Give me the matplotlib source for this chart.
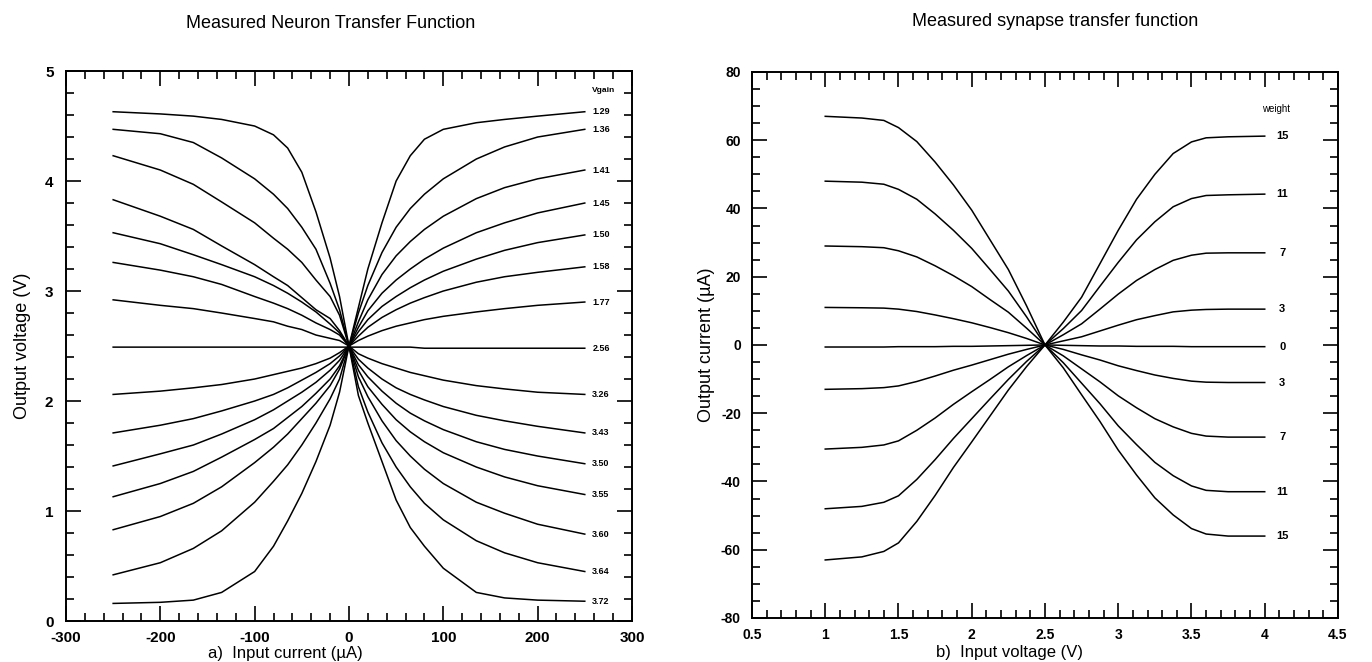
import matplotlib
matplotlib.use("Agg")
import matplotlib.pyplot as plt
from matplotlib.ticker import MultipleLocator

plt.rcParams["font.family"] = ["Liberation Sans", "DejaVu Sans"]
plt.rcParams["axes.unicode_minus"] = False

# ---- panel a: neuron transfer function ----
i_in = [-250, -200, -165, -135, -100, -80, -65, -50, -35, -20, -10, 0,
        10, 20, 35, 50, 65, 80, 100, 135, 165, 200, 250]

vgain_labels = ["1.29", "1.36", "1.41", "1.45", "1.50", "1.58", "1.77", "2.56",
                "3.26", "3.43", "3.50", "3.55", "3.60", "3.64", "3.72"]

v_129 = [0.16, 0.17, 0.19, 0.26, 0.45, 0.68, 0.91, 1.16, 1.45, 1.78, 2.08, 2.5,
         2.85, 3.20, 3.62, 4.00, 4.23, 4.38, 4.47, 4.53, 4.56, 4.59, 4.63]
v_136 = [0.42, 0.53, 0.66, 0.82, 1.08, 1.27, 1.42, 1.60, 1.80, 2.02, 2.20, 2.5,
         2.80, 3.05, 3.35, 3.58, 3.75, 3.88, 4.02, 4.20, 4.31, 4.40, 4.47]
v_141 = [0.83, 0.95, 1.07, 1.22, 1.44, 1.58, 1.70, 1.84, 1.98, 2.14, 2.29, 2.5,
         2.72, 2.92, 3.15, 3.32, 3.45, 3.56, 3.68, 3.84, 3.94, 4.02, 4.10]
v_145 = [1.13, 1.25, 1.36, 1.49, 1.65, 1.75, 1.85, 1.95, 2.07, 2.20, 2.32, 2.5,
         2.67, 2.82, 2.98, 3.10, 3.20, 3.29, 3.39, 3.53, 3.62, 3.71, 3.80]
v_150 = [1.41, 1.52, 1.60, 1.70, 1.83, 1.92, 2.00, 2.08, 2.17, 2.28, 2.37, 2.5,
         2.63, 2.74, 2.86, 2.95, 3.03, 3.10, 3.18, 3.29, 3.37, 3.44, 3.51]
v_158 = [1.71, 1.78, 1.84, 1.91, 2.00, 2.06, 2.12, 2.19, 2.26, 2.34, 2.41, 2.5,
         2.59, 2.67, 2.76, 2.83, 2.89, 2.94, 3.00, 3.08, 3.13, 3.17, 3.22]
v_177 = [2.06, 2.09, 2.12, 2.15, 2.20, 2.24, 2.27, 2.30, 2.34, 2.39, 2.44, 2.5,
         2.55, 2.59, 2.64, 2.68, 2.71, 2.74, 2.77, 2.81, 2.84, 2.87, 2.90]
v_256 = [2.49, 2.49, 2.49, 2.49, 2.49, 2.49, 2.49, 2.49, 2.49, 2.49, 2.49, 2.49,
         2.49, 2.49, 2.49, 2.49, 2.49, 2.48, 2.48, 2.48, 2.48, 2.48, 2.48]
v_326 = [2.92, 2.87, 2.84, 2.80, 2.75, 2.72, 2.68, 2.65, 2.60, 2.57, 2.55, 2.5,
         2.43, 2.39, 2.34, 2.30, 2.26, 2.23, 2.19, 2.14, 2.11, 2.08, 2.06]
v_343 = [3.26, 3.19, 3.13, 3.06, 2.95, 2.89, 2.84, 2.78, 2.71, 2.65, 2.60, 2.5,
         2.38, 2.30, 2.20, 2.12, 2.06, 2.01, 1.95, 1.87, 1.82, 1.77, 1.71]
v_350 = [3.53, 3.43, 3.33, 3.24, 3.13, 3.05, 2.98, 2.90, 2.81, 2.70, 2.62, 2.5,
         2.33, 2.22, 2.09, 1.98, 1.89, 1.82, 1.74, 1.63, 1.56, 1.50, 1.43]
v_355 = [3.83, 3.68, 3.56, 3.41, 3.24, 3.13, 3.05, 2.94, 2.83, 2.75, 2.64, 2.5,
         2.28, 2.13, 1.97, 1.83, 1.72, 1.63, 1.53, 1.40, 1.31, 1.23, 1.15]
v_360 = [4.23, 4.10, 3.97, 3.81, 3.62, 3.48, 3.38, 3.26, 3.10, 2.95, 2.78, 2.5,
         2.22, 2.04, 1.82, 1.64, 1.50, 1.38, 1.25, 1.08, 0.98, 0.88, 0.79]
v_364 = [4.47, 4.43, 4.35, 4.21, 4.02, 3.88, 3.75, 3.58, 3.38, 3.07, 2.83, 2.5,
         2.13, 1.90, 1.62, 1.40, 1.22, 1.07, 0.92, 0.73, 0.62, 0.53, 0.45]
v_372 = [4.63, 4.61, 4.59, 4.56, 4.50, 4.42, 4.30, 4.08, 3.72, 3.30, 2.95, 2.5,
         2.05, 1.80, 1.45, 1.10, 0.85, 0.68, 0.48, 0.26, 0.21, 0.19, 0.18]

neuron_curves = [v_129, v_136, v_141, v_145, v_150, v_158, v_177, v_256,
                 v_326, v_343, v_350, v_355, v_360, v_364, v_372]

# ---- panel b: synapse transfer function ----
v_in = [1.0, 1.25, 1.4, 1.5, 1.625, 1.75, 1.875, 2.0, 2.125, 2.25, 2.375, 2.5,
        2.625, 2.75, 2.875, 3.0, 3.125, 3.25, 3.375, 3.5, 3.6, 3.75, 4.0]

weight_labels = ["15", "11", "7", "3", "0", "3", "7", "11", "15"]

w_p15 = [-63, -62.1, -60.5, -58.0, -51.7, -44.1, -35.9, -28.4, -20.8, -13.2, -6.3, 0,
         6.7, 14.0, 23.8, 33.6, 42.7, 50.0, 56.1, 59.5, 60.7, 61.0, 61.2]
w_p11 = [-48, -47.3, -46.1, -44.2, -39.4, -33.6, -27.4, -21.6, -15.8, -10.1, -4.8, 0,
         4.8, 10.1, 17.2, 24.2, 30.8, 36.1, 40.5, 42.9, 43.8, 44.0, 44.2]
w_p7 = [-30.5, -30.0, -29.3, -28.1, -25.0, -21.4, -17.4, -13.7, -10.1, -6.4, -3.1, 0,
        3.0, 6.2, 10.5, 14.9, 18.9, 22.1, 24.8, 26.3, 26.9, 27.0, 27.0]
w_p3 = [-13, -12.8, -12.5, -12.0, -10.7, -9.1, -7.4, -5.9, -4.3, -2.7, -1.3, 0,
        1.2, 2.4, 4.1, 5.8, 7.4, 8.6, 9.7, 10.2, 10.4, 10.5, 10.5]
w_0 = [-0.6, -0.6, -0.6, -0.5, -0.5, -0.5, -0.4, -0.4, -0.3, -0.2, -0.1, 0,
       -0.1, -0.2, -0.3, -0.3, -0.4, -0.4, -0.4, -0.5, -0.5, -0.5, -0.5]
w_n3 = [11, 10.9, 10.8, 10.5, 9.8, 8.8, 7.7, 6.5, 5.1, 3.6, 1.9, 0,
        -1.3, -2.9, -4.4, -6.1, -7.5, -8.8, -9.8, -10.6, -10.9, -11.0, -11.0]
w_n7 = [29, 28.8, 28.5, 27.6, 25.8, 23.2, 20.3, 17.1, 13.3, 9.6, 4.9, 0,
        -3.2, -7.0, -10.8, -14.9, -18.4, -21.6, -24.0, -25.9, -26.7, -27.0, -27.0]
w_n11 = [48, 47.7, 47.1, 45.6, 42.7, 38.4, 33.6, 28.3, 22.1, 15.8, 8.2, 0,
         -5.2, -11.2, -17.2, -23.7, -29.2, -34.4, -38.3, -41.3, -42.6, -43.0, -43.0]
w_n15 = [67, 66.5, 65.8, 63.7, 59.6, 53.6, 46.9, 39.5, 30.8, 22.1, 11.4, 0,
         -6.7, -14.6, -22.4, -30.8, -38.1, -44.8, -49.8, -53.8, -55.4, -56.0, -56.0]

synapse_curves = [w_p15, w_p11, w_p7, w_p3, w_0, w_n3, w_n7, w_n11, w_n15]


def style_axes(ax):
    for sp in ax.spines.values():
        sp.set_linewidth(1.4)
    ax.tick_params(which="both", direction="in", top=True, right=True,
                   width=1.2, colors="black")
    ax.tick_params(which="major", length=11)
    ax.tick_params(which="minor", length=6)


fig = plt.figure(figsize=(13.72, 6.62), dpi=100)

# left panel
ax1 = fig.add_axes([0.0481, 0.0619, 0.4125, 0.8308])
for ys in neuron_curves:
    ax1.plot(i_in, ys, color="black", lw=1.1)
ax1.set_xlim(-300, 300)
ax1.set_ylim(0, 5)
ax1.xaxis.set_major_locator(MultipleLocator(100))
ax1.xaxis.set_minor_locator(MultipleLocator(20))
ax1.yaxis.set_major_locator(MultipleLocator(1))
ax1.yaxis.set_minor_locator(MultipleLocator(0.2))
style_axes(ax1)
ax1.tick_params(axis="x", which="major", labelsize=11, pad=7)
ax1.tick_params(axis="y", which="major", labelsize=11, pad=9)
for lab in ax1.get_xticklabels() + ax1.get_yticklabels():
    lab.set_fontweight("bold")
for lab, ys in zip(vgain_labels, neuron_curves):
    ax1.text(258, ys[-1], lab, fontsize=6.5, fontweight="bold",
             va="center", ha="left")
ax1.text(258, 4.82, "Vgain", fontsize=6, fontweight="bold",
         va="center", ha="left")
ax1.set_ylabel("Output voltage (V)", fontsize=13, labelpad=10)
ax1.set_xlabel("a)  Input current (µA)", fontsize=12)
ax1.xaxis.set_label_coords(0.387, -0.045)

# right panel
ax2 = fig.add_axes([0.5481, 0.0665, 0.4271, 0.8248])
for ys in synapse_curves:
    ax2.plot(v_in, ys, color="black", lw=1.1)
ax2.set_xlim(0.5, 4.5)
ax2.set_ylim(-80, 80)
ax2.xaxis.set_major_locator(MultipleLocator(0.5))
ax2.xaxis.set_minor_locator(MultipleLocator(0.1))
ax2.yaxis.set_major_locator(MultipleLocator(20))
ax2.yaxis.set_minor_locator(MultipleLocator(5))
style_axes(ax2)
ax2.tick_params(axis="x", which="major", labelsize=10, pad=7)
ax2.tick_params(axis="y", which="major", labelsize=10, pad=8)
ax2.set_xticks([0.5, 1, 1.5, 2, 2.5, 3, 3.5, 4, 4.5])
ax2.set_xticklabels(["0.5", "1", "1.5", "2", "2.5", "3", "3.5", "4", "4.5"])
for lab in ax2.get_xticklabels() + ax2.get_yticklabels():
    lab.set_fontweight("bold")
for lab, ys in zip(weight_labels, synapse_curves):
    ax2.text(4.12, ys[-1], lab, fontsize=8, fontweight="bold",
             va="center", ha="center")
ax2.text(4.08, 69, "weight", fontsize=7, va="center", ha="center")
ax2.set_ylabel("Output current (µA)", fontsize=13, labelpad=4)
ax2.set_xlabel("b)  Input voltage (V)", fontsize=12)
ax2.xaxis.set_label_coords(0.44, -0.05)

fig.text(0.241, 0.965, "Measured Neuron Transfer Function", fontsize=13,
         ha="center", va="center")
fig.text(0.769, 0.968, "Measured synapse transfer function", fontsize=13,
         ha="center", va="center")

fig.savefig("out.png", dpi=100)
